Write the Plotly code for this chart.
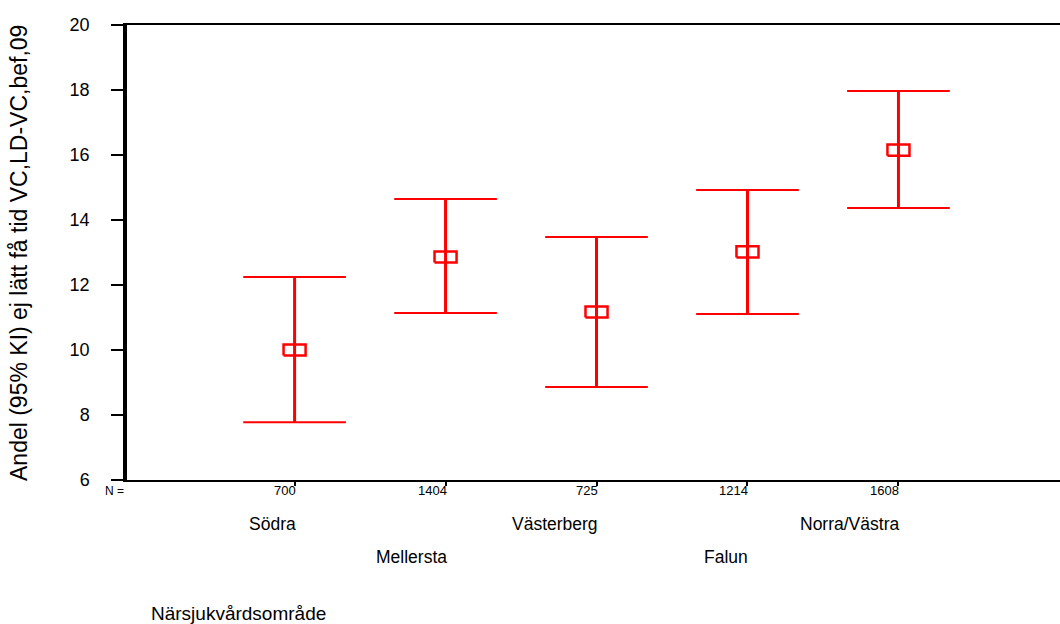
import plotly.graph_objects as go

categories = ["Södra", "Mellersta", "Västerberg", "Falun", "Norra/Västra"]
n_values = [700, 1404, 725, 1214, 1608]
means = [10.0, 12.86, 11.17, 13.02, 16.15]
lower = [7.78, 11.14, 8.86, 11.11, 14.37]
upper = [12.25, 14.65, 13.48, 14.92, 17.97]
y_ticks = [6, 8, 10, 12, 14, 16, 18, 20]

RED = "#ff0000"
positions = list(range(1, len(categories) + 1))
cap = 0.34
bw, bh = 0.073, 0.17

fig = go.Figure()

# vertical whiskers
vx, vy = [], []
for p, lo, hi in zip(positions, lower, upper):
    vx += [p, p, None]
    vy += [lo, hi, None]
fig.add_trace(go.Scatter(x=vx, y=vy, mode="lines", line=dict(color=RED, width=3),
                         hoverinfo="skip", showlegend=False))
# caps
cx, cy = [], []
for p, lo, hi in zip(positions, lower, upper):
    cx += [p - cap, p + cap, None, p - cap, p + cap, None]
    cy += [lo, lo, None, hi, hi, None]
fig.add_trace(go.Scatter(x=cx, y=cy, mode="lines", line=dict(color=RED, width=2),
                         hoverinfo="skip", showlegend=False))
# mean boxes
bx, by = [], []
for p, m in zip(positions, means):
    bx += [p - bw, p + bw, p + bw, p - bw, p - bw, None]
    by += [m - bh, m - bh, m + bh, m + bh, m - bh, None]
fig.add_trace(go.Scatter(x=bx, y=by, mode="lines", line=dict(color=RED, width=2.5),
                         hoverinfo="skip", showlegend=False))

PW, PH = 933, 455
annotations = []
annotations.append(dict(x=(126 - 127) / PW, xref="paper", xanchor="right", y=-(491 - 480) / PH,
                        yref="paper", yanchor="middle", text="N =", showarrow=False,
                        font=dict(size=12, color="black")))
for i, (p, n, c) in enumerate(zip(positions, n_values, categories)):
    annotations.append(dict(x=p, xref="x", xanchor="right", xshift=3, y=-(491 - 480) / PH,
                            yref="paper", yanchor="middle",
                            text=str(n), showarrow=False, font=dict(size=13, color="black")))
    row_px = 524 if i % 2 == 0 else 557
    annotations.append(dict(x=p, xref="x", xanchor="right", xshift=3, y=-(row_px - 480) / PH,
                            yref="paper", yanchor="middle",
                            text=c, showarrow=False, font=dict(size=17.5, color="black")))
annotations.append(dict(x=(149 - 127) / PW, xref="paper", xanchor="left",
                        y=-(613 - 480) / PH, yref="paper", yanchor="middle",
                        text="Närsjukvårdsområde", showarrow=False,
                        font=dict(size=19, color="black")))
annotations.append(dict(x=(19 - 127) / PW, xref="paper", xanchor="center",
                        y=(480 - 253) / PH, yref="paper", yanchor="middle",
                        text="Andel (95% KI) ej lätt få tid VC,LD-VC,bef,09", textangle=-90,
                        showarrow=False, font=dict(size=23, color="black")))

fig.update_layout(
    width=1060, height=624,
    margin=dict(l=127, r=0, t=25, b=144),
    paper_bgcolor="white", plot_bgcolor="white",
    font=dict(family="Liberation Sans, Arial, sans-serif", color="black"),
    annotations=annotations,
    xaxis=dict(range=[-0.11, 6.07], showgrid=False, zeroline=False, showticklabels=False,
               tickvals=positions, ticks="outside", ticklen=4, tickwidth=2, tickcolor="black",
               showline=True, linecolor="black", linewidth=2, mirror=True),
    yaxis=dict(range=[6, 20], tickvals=y_ticks, ticks="outside", ticklen=12, tickwidth=1.5,
               tickcolor="black", showgrid=False, zeroline=False, showline=True,
               linecolor="black", linewidth=3.5, tickfont=dict(size=18, color="black"),
               ticklabelstandoff=18),
)

fig.write_html("out.html", config={"displayModeBar": False},
               post_script="document.body.style.margin='0';")
